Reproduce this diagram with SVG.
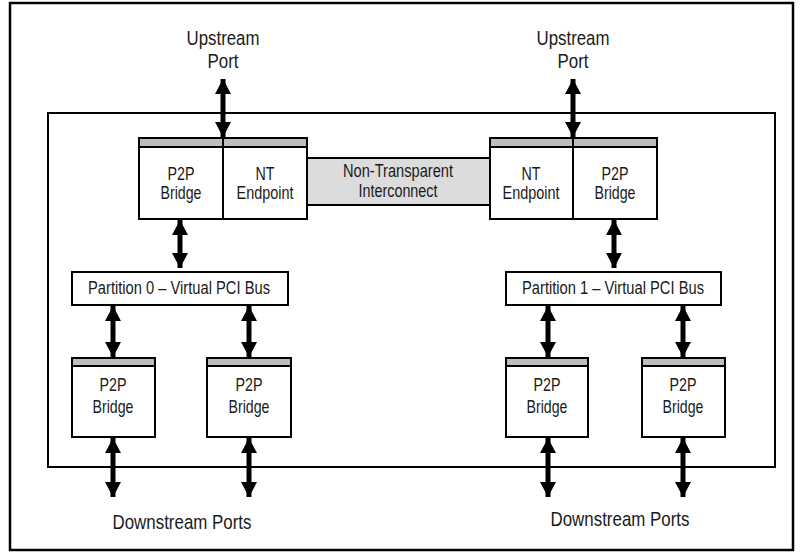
<svg xmlns="http://www.w3.org/2000/svg" width="805" height="552" viewBox="0 0 805 552">
<style>
.t{font-family:"Liberation Sans",Arial,sans-serif;fill:#1a1a1a;text-anchor:middle}
.big{font-size:20.5px}
.sm{font-size:17.5px}
.box{fill:#fff;stroke:#000;stroke-width:2}
.band{fill:#bdbdbd;stroke:#000;stroke-width:2}
.shaft{stroke:#000;stroke-width:5;fill:none}
</style>
<defs>
<marker id="ah" viewBox="0 0 15 16" refX="15" refY="8" markerWidth="15" markerHeight="16" markerUnits="userSpaceOnUse" orient="auto-start-reverse">
<path d="M0,0 L15,8 L0,16 z" fill="#000"/>
</marker>
</defs>
<rect width="805" height="552" fill="#fff"/>
<rect x="10" y="3" width="783" height="547" fill="none" stroke="#000" stroke-width="2.5"/>
<rect id="switch" x="48" y="113" width="727" height="354" fill="none" stroke="#000" stroke-width="2"/>

<g id="labels">
<text class="t big" x="223" y="45" textLength="73" lengthAdjust="spacingAndGlyphs">Upstream</text>
<text class="t big" x="223" y="68" textLength="31" lengthAdjust="spacingAndGlyphs">Port</text>
<text class="t big" x="573" y="45" textLength="73" lengthAdjust="spacingAndGlyphs">Upstream</text>
<text class="t big" x="573" y="68" textLength="31" lengthAdjust="spacingAndGlyphs">Port</text>
<text class="t big" x="182" y="529" textLength="139" lengthAdjust="spacingAndGlyphs">Downstream Ports</text>
<text class="t big" x="620" y="526" textLength="139" lengthAdjust="spacingAndGlyphs">Downstream Ports</text>
</g>

<g id="nt-interconnect">
<rect x="307" y="158" width="183" height="47" fill="#dcdcdc" stroke="#000" stroke-width="2"/>
<text class="t sm" x="398" y="177" textLength="110" lengthAdjust="spacingAndGlyphs">Non-Transparent</text>
<text class="t sm" x="398" y="197" textLength="79" lengthAdjust="spacingAndGlyphs">Interconnect</text>
</g>

<g id="p2p-left-up">
<rect class="box" x="139" y="138" width="84" height="81"/>
<rect class="band" x="139" y="138" width="84" height="9"/>
<text class="t sm" x="181" y="180" textLength="27" lengthAdjust="spacingAndGlyphs">P2P</text>
<text class="t sm" x="181" y="199" textLength="41" lengthAdjust="spacingAndGlyphs">Bridge</text>
</g>
<g id="nt-left">
<rect class="box" x="223" y="138" width="84" height="81"/>
<rect class="band" x="223" y="138" width="84" height="9"/>
<text class="t sm" x="265" y="180" textLength="19" lengthAdjust="spacingAndGlyphs">NT</text>
<text class="t sm" x="265" y="199" textLength="57" lengthAdjust="spacingAndGlyphs">Endpoint</text>
</g>
<g id="nt-right">
<rect class="box" x="490" y="138" width="83" height="81"/>
<rect class="band" x="490" y="138" width="83" height="9"/>
<text class="t sm" x="531" y="180" textLength="19" lengthAdjust="spacingAndGlyphs">NT</text>
<text class="t sm" x="531" y="199" textLength="57" lengthAdjust="spacingAndGlyphs">Endpoint</text>
</g>
<g id="p2p-right-up">
<rect class="box" x="573" y="138" width="84" height="81"/>
<rect class="band" x="573" y="138" width="84" height="9"/>
<text class="t sm" x="615" y="180" textLength="27" lengthAdjust="spacingAndGlyphs">P2P</text>
<text class="t sm" x="615" y="199" textLength="41" lengthAdjust="spacingAndGlyphs">Bridge</text>
</g>

<g id="bus0">
<rect class="box" x="72" y="272" width="216" height="33"/>
<text class="t sm" x="179" y="294" textLength="182" lengthAdjust="spacingAndGlyphs">Partition 0 – Virtual PCI Bus</text>
</g>
<g id="bus1">
<rect class="box" x="506" y="272" width="215" height="33"/>
<text class="t sm" x="613" y="294" textLength="182" lengthAdjust="spacingAndGlyphs">Partition 1 – Virtual PCI Bus</text>
</g>

<g id="p2p-l1">
<rect class="box" x="72" y="358" width="83" height="79"/>
<rect class="band" x="72" y="358" width="83" height="8"/>
<text class="t sm" x="113" y="391" textLength="27" lengthAdjust="spacingAndGlyphs">P2P</text>
<text class="t sm" x="113" y="413" textLength="41" lengthAdjust="spacingAndGlyphs">Bridge</text>
</g>
<g id="p2p-l2">
<rect class="box" x="207" y="358" width="84" height="79"/>
<rect class="band" x="207" y="358" width="84" height="8"/>
<text class="t sm" x="249" y="391" textLength="27" lengthAdjust="spacingAndGlyphs">P2P</text>
<text class="t sm" x="249" y="413" textLength="41" lengthAdjust="spacingAndGlyphs">Bridge</text>
</g>
<g id="p2p-r1">
<rect class="box" x="506" y="358" width="82" height="79"/>
<rect class="band" x="506" y="358" width="82" height="8"/>
<text class="t sm" x="547" y="391" textLength="27" lengthAdjust="spacingAndGlyphs">P2P</text>
<text class="t sm" x="547" y="413" textLength="41" lengthAdjust="spacingAndGlyphs">Bridge</text>
</g>
<g id="p2p-r2">
<rect class="box" x="642" y="358" width="83" height="79"/>
<rect class="band" x="642" y="358" width="83" height="8"/>
<text class="t sm" x="683" y="391" textLength="27" lengthAdjust="spacingAndGlyphs">P2P</text>
<text class="t sm" x="683" y="413" textLength="41" lengthAdjust="spacingAndGlyphs">Bridge</text>
</g>

<g id="connectors" class="shaft">
<line x1="223" y1="79" x2="223" y2="137" marker-start="url(#ah)" marker-end="url(#ah)"/>
<line x1="573" y1="79" x2="573" y2="137" marker-start="url(#ah)" marker-end="url(#ah)"/>
<line x1="180" y1="220" x2="180" y2="268" marker-start="url(#ah)" marker-end="url(#ah)"/>
<line x1="614" y1="220" x2="614" y2="268" marker-start="url(#ah)" marker-end="url(#ah)"/>
<line x1="113" y1="306" x2="113" y2="357" marker-start="url(#ah)" marker-end="url(#ah)"/>
<line x1="249" y1="306" x2="249" y2="357" marker-start="url(#ah)" marker-end="url(#ah)"/>
<line x1="548" y1="306" x2="548" y2="357" marker-start="url(#ah)" marker-end="url(#ah)"/>
<line x1="683" y1="306" x2="683" y2="357" marker-start="url(#ah)" marker-end="url(#ah)"/>
<line x1="113" y1="438" x2="113" y2="497" marker-start="url(#ah)" marker-end="url(#ah)"/>
<line x1="249" y1="438" x2="249" y2="497" marker-start="url(#ah)" marker-end="url(#ah)"/>
<line x1="548" y1="438" x2="548" y2="497" marker-start="url(#ah)" marker-end="url(#ah)"/>
<line x1="683" y1="438" x2="683" y2="497" marker-start="url(#ah)" marker-end="url(#ah)"/>
</g>
</svg>
